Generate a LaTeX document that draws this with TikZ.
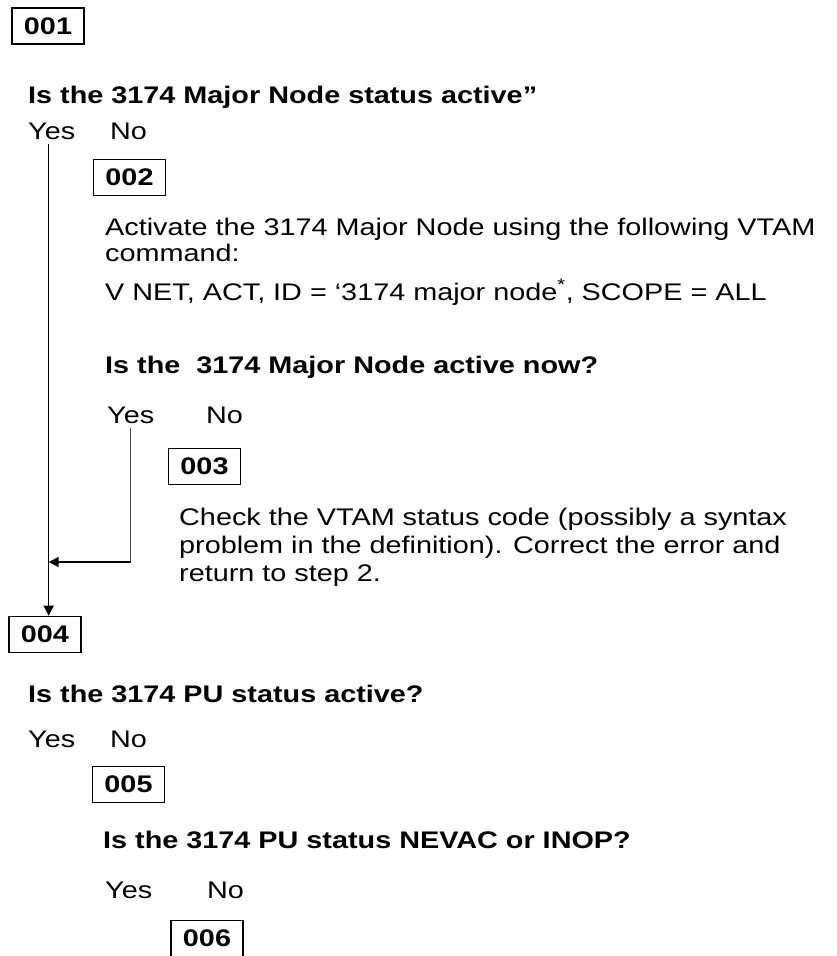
\documentclass[tikz,border=0pt]{standalone}
\usepackage{fontspec}
\setmainfont{Liberation Sans}[FakeStretch=1.2]
\usetikzlibrary{arrows.meta, positioning, calc}

\begin{document}
\begin{tikzpicture}[
    x=1pt, y=-1pt,
    stepbox/.style = {rectangle, draw=black, line width=1.6pt, minimum width=72pt, minimum height=36pt, inner sep=0pt, font=\fontsize{24}{28}\selectfont\bfseries},
    question/.style = {anchor=base west, inner sep=0pt, font=\fontsize{24}{28}\selectfont\bfseries},
    answer/.style = {anchor=base west, inner sep=0pt, font=\fontsize{24}{28}\selectfont},
    body/.style = {anchor=north west, inner sep=0pt, align=left, font=\fontsize{24}{28}\selectfont},
    trunk/.style = {draw, line width=1.6pt, -{Triangle[length=10pt,width=10pt]}},
    branch/.style = {draw, line width=0.8pt, black!70},
]
\useasboundingbox (0,0) rectangle (836,956);

% Step 1
\node [stepbox] (s001) at (48,26) {001};
\node [question] (q001) at (28,103) {Is the 3174 Major Node status active”};
\node [answer] (yes1) at (28,139) {Yes};
\node [answer] (no1) at (110,139) {No};

% Step 2
\node [stepbox] (s002) at (129.5,177.5) {002};
\node [body, font=\fontsize{24}{26}\selectfont] (act) at (105,217.5) {Activate the 3174 Major Node using the following VTAM\\command:};
\node [answer] (cmd) at (105,300) {V NET, ACT, ID = ‘3174 major node\textsuperscript{*}, SCOPE = ALL};
\node [question] (q002) at (105,373) {Is the \ 3174 Major Node active now?};
\node [answer] (yes2) at (107,423) {Yes};
\node [answer] (no2) at (206,423) {No};

% Step 3
\node [stepbox] (s003) at (204.5,466.5) {003};
\node [body] (chk) at (179,507.5) {Check the VTAM status code (possibly a syntax\\problem in the definition). Correct the error and\\return to step 2.};

% Step 4
\node [stepbox] (s004) at (45,634.5) {004};
\node [question] (q004) at (28,702) {Is the 3174 PU status active?};
\node [answer] (yes3) at (28,747) {Yes};
\node [answer] (no3) at (110,747) {No};

% Step 5
\node [stepbox] (s005) at (128.5,784.5) {005};
\node [question] (q005) at (103,848) {Is the 3174 PU status NEVAC or INOP?};
\node [answer] (yes4) at (105,898) {Yes};
\node [answer] (no4) at (207,898) {No};

% Step 6
\node [stepbox] (s006) at (207,938.5) {006};

% Paths
\coordinate (ytop) at ($(yes1.south)+(-3,5)$);
\coordinate (joiny) at (0,562);
\coordinate (merge) at (ytop |- joiny);
\coordinate (bend) at (yes2.south |- joiny);
\path [trunk] (ytop) -- (ytop |- s004.north);
\path [branch] ([yshift=-5pt]yes2.south) -- (bend);
\path [trunk] (bend) -- (merge);

\end{tikzpicture}
\end{document}
